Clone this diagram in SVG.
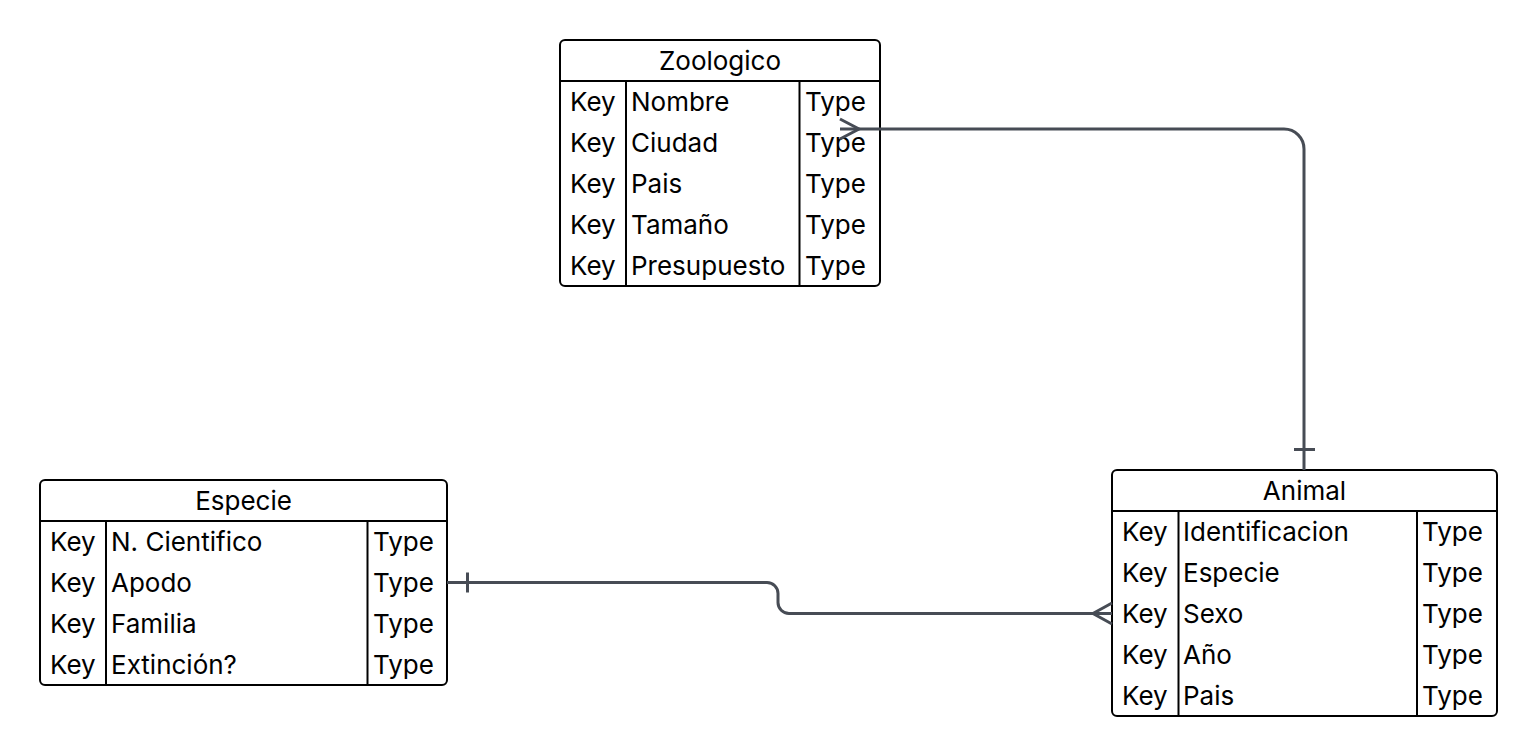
<svg xmlns="http://www.w3.org/2000/svg" width="1538" height="756" viewBox="0 0 1538 756">
<style>
.box{fill:#ffffff;stroke:#000000;stroke-width:2}
.ln{stroke:#000000;stroke-width:2;fill:none}
.t{font-family:Inter,"Noto Sans","Liberation Sans",sans-serif;font-size:26px;fill:#000000}
.h{text-anchor:middle}
.c{stroke:#474c55;stroke-width:3;fill:none;stroke-linecap:butt}
</style>
<rect width="1538" height="756" fill="#ffffff"/>
<g id="zoologico">
<rect class="box" x="560" y="40" width="320" height="246" rx="5"/>
<line class="ln" x1="560" y1="81" x2="880" y2="81"/>
<line class="ln" x1="626" y1="81" x2="626" y2="286"/>
<line class="ln" x1="799.5" y1="81" x2="799.5" y2="286"/>
<text class="t h" x="720" y="69.5">Zoologico</text>
<text class="t" x="570" y="111">Key</text><text class="t" x="631" y="111">Nombre</text><text class="t" x="805" y="111">Type</text>
<text class="t" x="570" y="152">Key</text><text class="t" x="631" y="152">Ciudad</text><text class="t" x="805" y="152">Type</text>
<text class="t" x="570" y="193">Key</text><text class="t" x="631" y="193">Pais</text><text class="t" x="805" y="193">Type</text>
<text class="t" x="570" y="234">Key</text><text class="t" x="631" y="234">Tamaño</text><text class="t" x="805" y="234">Type</text>
<text class="t" x="570" y="275">Key</text><text class="t" x="631" y="275">Presupuesto</text><text class="t" x="805" y="275">Type</text>
</g>
<g id="especie">
<rect class="box" x="40" y="480" width="407" height="205" rx="5"/>
<line class="ln" x1="40" y1="521" x2="447" y2="521"/>
<line class="ln" x1="106" y1="521" x2="106" y2="685"/>
<line class="ln" x1="367.5" y1="521" x2="367.5" y2="685"/>
<text class="t h" x="243.5" y="509.5">Especie</text>
<text class="t" x="50" y="551">Key</text><text class="t" x="111" y="551">N. Cientifico</text><text class="t" x="373" y="551">Type</text>
<text class="t" x="50" y="592">Key</text><text class="t" x="111" y="592">Apodo</text><text class="t" x="373" y="592">Type</text>
<text class="t" x="50" y="633">Key</text><text class="t" x="111" y="633">Familia</text><text class="t" x="373" y="633">Type</text>
<text class="t" x="50" y="674">Key</text><text class="t" x="111" y="674">Extinción?</text><text class="t" x="373" y="674">Type</text>
</g>
<g id="animal">
<rect class="box" x="1112" y="470" width="385" height="246" rx="5"/>
<line class="ln" x1="1112" y1="511" x2="1497" y2="511"/>
<line class="ln" x1="1178.5" y1="511" x2="1178.5" y2="716"/>
<line class="ln" x1="1417" y1="511" x2="1417" y2="716"/>
<text class="t h" x="1304.5" y="499.5">Animal</text>
<text class="t" x="1122" y="541">Key</text><text class="t" x="1183" y="541">Identificacion</text><text class="t" x="1422" y="541">Type</text>
<text class="t" x="1122" y="582">Key</text><text class="t" x="1183" y="582">Especie</text><text class="t" x="1422" y="582">Type</text>
<text class="t" x="1122" y="623">Key</text><text class="t" x="1183" y="623">Sexo</text><text class="t" x="1422" y="623">Type</text>
<text class="t" x="1122" y="664">Key</text><text class="t" x="1183" y="664">Año</text><text class="t" x="1422" y="664">Type</text>
<text class="t" x="1122" y="705">Key</text><text class="t" x="1183" y="705">Pais</text><text class="t" x="1422" y="705">Type</text>
</g>
<g id="connectors">
<path class="c" d="M840 129 H1284 A20 20 0 0 1 1304 149 V470"/>
<path class="c" d="M840 119 L859 129 L840 139"/>
<path class="c" d="M1294 449.5 H1315"/>
<path class="c" d="M447 582.5 H767 A11 11 0 0 1 778 593.5 V602.5 A11 11 0 0 0 789 613.5 H1112"/>
<path class="c" d="M467.5 572.5 V592.5"/>
<path class="c" d="M1112 603 L1093 613.5 L1112 624"/>
</g>
</svg>
